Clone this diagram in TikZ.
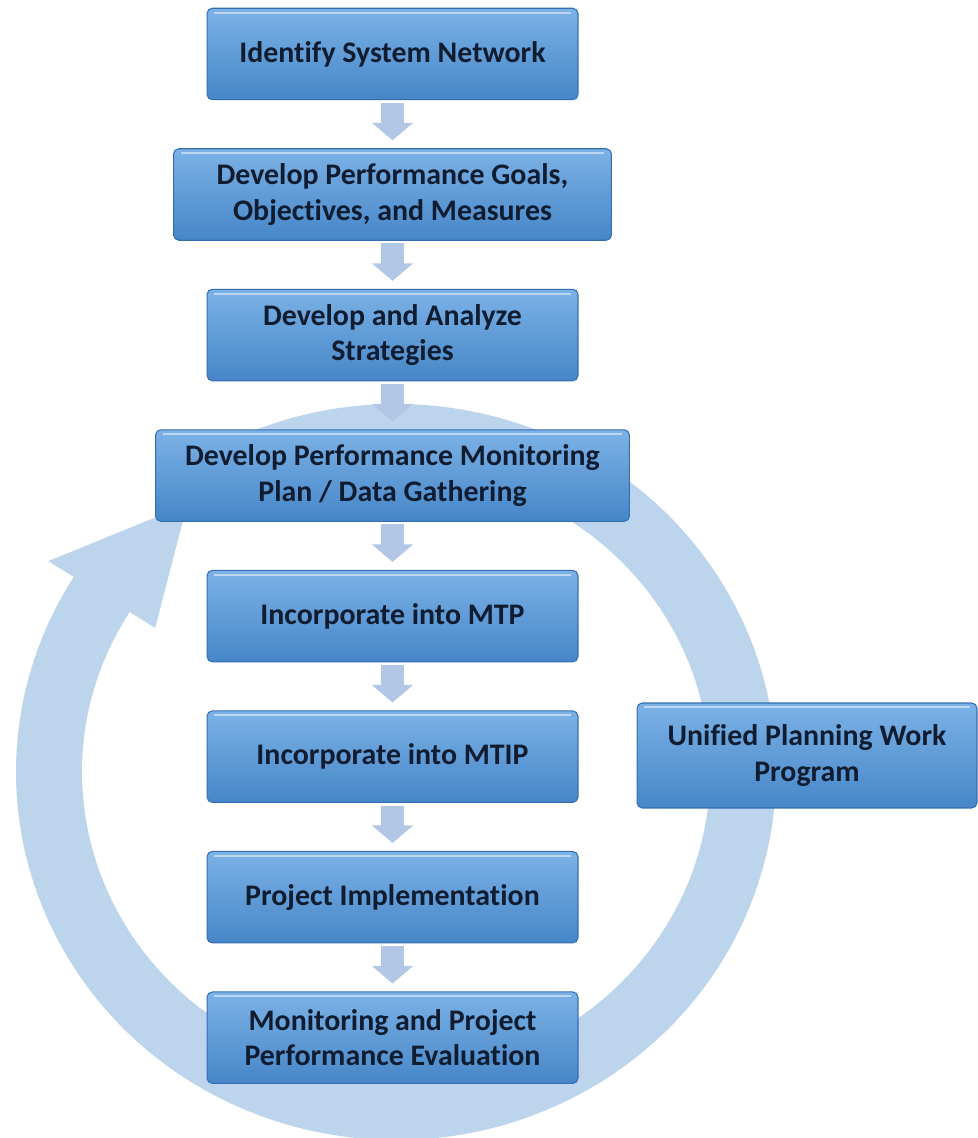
\documentclass[tikz,border=0pt]{standalone}
\usepackage{fontspec}
\setmainfont{Carlito}[Ligatures=NoCommon]
\usetikzlibrary{positioning,arrows.meta}
\definecolor{boxtop}{RGB}{124,178,230}
\definecolor{boxbot}{RGB}{70,134,200}
\definecolor{boxedge}{RGB}{52,110,178}
\definecolor{ringblue}{RGB}{188,212,236}
\definecolor{stepblue}{RGB}{178,198,230}
\definecolor{labelink}{RGB}{16,28,48}
\tikzset{
  stage/.style={draw=boxedge, line width=0.6pt, rounded corners=3pt,
    top color=boxtop, bottom color=boxbot,
    minimum width=7.42cm, minimum height=1.83cm, align=center,
    font=\fontsize{17pt}{20pt}\selectfont\bfseries, text=labelink,
    path picture={\draw[white,opacity=0.5,line width=1.2pt]
      ([xshift=4pt,yshift=-2.5pt]path picture bounding box.north west) --
      ([xshift=-4pt,yshift=-2.5pt]path picture bounding box.north east);}},
  flow/.style={stepblue, line width=13pt, -{Triangle[width=23pt,length=10pt]},
    shorten <=1.5pt, shorten >=4.5pt}
}

\begin{document}
\begin{tikzpicture}[x=0.02cm,y=0.02cm,node distance=0.96cm]
  \useasboundingbox (0,0) rectangle (977,1138);
  \coordinate (ctr) at (396,366);

  % the big loop arrow, behind everything
  \begin{scope}[shift={(ctr)}]
    \fill[ringblue] (480:380 and 368)
      arc[start angle=480,end angle=148,x radius=380,y radius=368]
      -- (148:410 and 398) -- (127:347 and 335) -- (148:284 and 272)
      -- (148:314 and 302)
      arc[start angle=148,end angle=480,x radius=314,y radius=302] -- cycle;
  \end{scope}

  % the steps
  \node[stage] (identify) at (392.5,1084) {Identify System Network};
  \node[stage, below=of identify, minimum width=8.76cm] (goals) {Develop Performance Goals,\\Objectives, and Measures};
  \node[stage, below=of goals] (strategies) {Develop and Analyze\\Strategies};
  \node[stage, below=of strategies, minimum width=9.48cm] (monplan) {Develop Performance Monitoring\\Plan / Data Gathering};
  \node[stage, below=of monplan] (mtp) {Incorporate into MTP};
  \node[stage, below=of mtp] (mtip) {Incorporate into MTIP};
  \node[stage, below=of mtip] (implement) {Project Implementation};
  \node[stage, below=of implement] (evaluate) {Monitoring and Project\\Performance Evaluation};
  \node[stage, minimum width=6.8cm, minimum height=2.1cm] (upwp) at (807,382.5) {Unified Planning Work\\Program};

  % small arrows between the steps
  \foreach \a/\b in {identify/goals, goals/strategies, strategies/monplan, monplan/mtp, mtp/mtip, mtip/implement, implement/evaluate}
    \draw[flow] (\a.south) -- (\b.north);
\end{tikzpicture}
\end{document}
